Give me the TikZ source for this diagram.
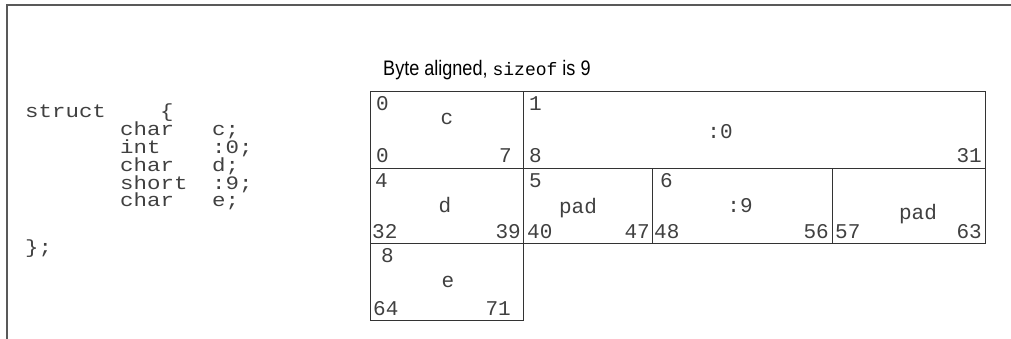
\documentclass[tikz,border=0pt]{standalone}
\usepackage{fontspec}
\setmainfont{Liberation Sans}
\setmonofont{Liberation Mono}
\newfontfamily\codefont{Liberation Mono}[FakeStretch=1.18]
\newfontfamily\capfont{Liberation Sans}[FakeStretch=0.86]
\usetikzlibrary{positioning}

\begin{document}
\begin{tikzpicture}[
  x=1pt,y=-1pt,
  frame/.style={draw=black!65,line width=2pt},
  cell/.style={rectangle,draw=black!80,line width=0.9pt,inner sep=0pt,anchor=north west},
  bits/.style={font=\ttfamily\fontsize{21}{25}\selectfont,text=black!75,inner sep=0pt},
  code/.style={font=\codefont\fontsize{19}{22}\selectfont,text=black!75,inner sep=0pt,anchor=base west},
  caption/.style={font=\capfont\fontsize{21}{25}\selectfont,inner sep=0pt,anchor=base west}
]
\useasboundingbox (0,0) rectangle (1011,339);
% page frame, top and left only
\draw[frame] (1011,5) -- (7,5) -- (7,339);

% the struct declaration
\node[code] (kw) at (25,118) {struct};
\node[code] (lbrace) at (160,118) {\{};
\foreach \ty/\fd [count=\i] in {char/c;, int/:0;, char/d;, short/:9;, char/e;}
  \node[code] (ty\i) at (120,118+17.8*\i) {\ty};
\foreach \ty/\fd [count=\i] in {char/c;, int/:0;, char/d;, short/:9;, char/e;}
  \node[code] (fd\i) at (212,118+17.8*\i) {\fd};
\node[code] (rbrace) at (25,253) {\};};

% caption
\node[caption] (title) at (383,76) {Byte aligned, {\ttfamily\fontsize{18}{22}\selectfont sizeof} is 9};

% storage cells
\node[cell,minimum width=153pt,minimum height=77pt] (cc) at (370,91) {};
\node[cell,minimum width=462pt,minimum height=77pt] (cz) at (523,91) {};
\node[cell,minimum width=153pt,minimum height=75pt] (cd) at (370,168) {};
\node[cell,minimum width=129pt,minimum height=75pt] (cpa) at (523,168) {};
\node[cell,minimum width=180pt,minimum height=75pt] (cn) at (652,168) {};
\node[cell,minimum width=153pt,minimum height=75pt] (cpb) at (832,168) {};
\node[cell,minimum width=153pt,minimum height=77pt] (ce) at (370,243) {};

% row 1
\node[bits,anchor=base west] (cc-top) at (376,111) {0};
\node[bits,anchor=base] (cc-name) at (447,125) {c};
\node[bits,anchor=base west] (cc-lo) at (376,163) {0};
\node[bits,anchor=base east] (cc-hi) at (512,163) {7};
\node[bits,anchor=base west] (cz-top) at (529,111) {1};
\node[bits,anchor=base] (cz-name) at (720,139) {:0};
\node[bits,anchor=base west] (cz-lo) at (529,163) {8};
\node[bits,anchor=base east] (cz-hi) at (982,163) {31};

% row 2
\node[bits,anchor=base west] (cd-top) at (375,187) {4};
\node[bits,anchor=base] (cd-name) at (445,212) {d};
\node[bits,anchor=base west] (cd-lo) at (372,238) {32};
\node[bits,anchor=base east] (cd-hi) at (521,238) {39};
\node[bits,anchor=base west] (cpa-top) at (529,187) {5};
\node[bits,anchor=base] (cpa-name) at (578,213) {pad};
\node[bits,anchor=base west] (cpa-lo) at (527,238) {40};
\node[bits,anchor=base east] (cpa-hi) at (650,238) {47};
\node[bits,anchor=base west] (cn-top) at (660,187) {6};
\node[bits,anchor=base] (cn-name) at (740,212) {:9};
\node[bits,anchor=base west] (cn-lo) at (654,238) {48};
\node[bits,anchor=base east] (cn-hi) at (829,238) {56};
\node[bits,anchor=base] (cpb-name) at (918,219) {pad};
\node[bits,anchor=base west] (cpb-lo) at (835,238) {57};
\node[bits,anchor=base east] (cpb-hi) at (982,238) {63};

% row 3
\node[bits,anchor=base west] (ce-top) at (381,262) {8};
\node[bits,anchor=base] (ce-name) at (448,287) {e};
\node[bits,anchor=base west] (ce-lo) at (373,315) {64};
\node[bits,anchor=base east] (ce-hi) at (511,315) {71};
\end{tikzpicture}
\end{document}
